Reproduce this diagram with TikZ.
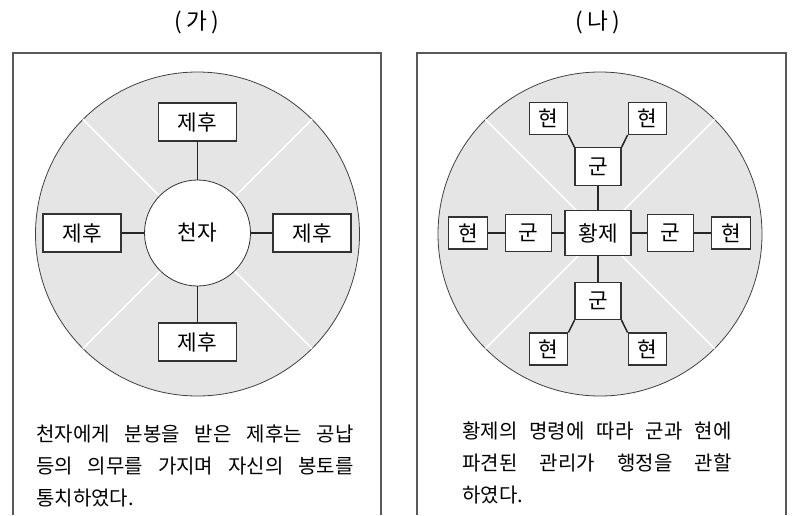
\documentclass[tikz,border=0pt]{standalone}
\usepackage{fontspec}
\newfontfamily\kr{Noto Sans CJK KR}
\usetikzlibrary{positioning}

\tikzset{
	unit/.style={draw=black!80,fill=white,line width=0.8pt,inner sep=0pt,font=\kr\fontsize{16pt}{18pt}\selectfont},
	wide/.style={unit,minimum width=58.5pt,minimum height=28.5pt},
	gun/.style={unit,minimum width=34.5pt,minimum height=28pt},
	hyeon/.style={unit,minimum width=29pt,minimum height=24pt},
	link/.style={draw=black!85,line width=1.1pt},
	spoke/.style={draw=white,line width=1.2pt},
	land/.style={draw=black!75,fill=black!10,line width=0.6pt},
	frame/.style={draw=black!65,line width=0.9pt},
	caption/.style={font=\kr\fontsize{15pt}{24pt}\selectfont,inner sep=0pt,anchor=north west,align=justify},
	heading/.style={font=\kr\fontsize{17pt}{18pt}\selectfont}
}

\begin{document}
\begin{tikzpicture}[x=0.75pt,y=-0.75pt]
	\useasboundingbox (0,0) rectangle (795,515);

	% (가)
	\node[heading] (ga) at (197,22) {(\hspace{3pt}가\hspace{3pt})};
	\draw[frame] (13,515) -- (13,53) -- (381,53) -- (381,515);
	\path[land] (197.5,234) circle[radius=162];
	\foreach \a in {45,135,225,315}
		\draw[spoke] (197.5,234) -- ++(\a:162);
	\node[draw=black!80,fill=white,line width=0.6pt,circle,minimum size=79.5pt,inner sep=0pt,font=\kr\fontsize{16pt}{18pt}\selectfont] (tz) at (197.5,233) {천자};
	\node[wide] (jn) at (197.5,122) {제후};
	\node[wide] (jw) at (82,233) {제후};
	\node[wide] (je) at (312,233) {제후};
	\node[wide] (js) at (197.5,342) {제후};
	\foreach \j in {jn,jw,je,js}
		\draw[link] (tz) -- (\j);
	\node[caption,text width=238pt] (tx1) at (36,425)
		{천자에게 분봉을 받은 제후는 공납\linebreak 등의 의무를 가지며 자신의 봉토를\linebreak 통치하였다.};

	% (나)
	\node[heading] (na) at (598,22) {(\hspace{3pt}나\hspace{3pt})};
	\draw[frame] (417,515) -- (417,53) -- (786,53) -- (786,515);
	\path[land] (600,234) circle[radius=162];
	\foreach \a in {45,135,225,315}
		\draw[spoke] (600,234) -- ++(\a:162);
	\node[unit,minimum width=49.5pt,minimum height=33.75pt] (hj) at (598,233) {황제};
	\node[gun] (gn) at (598,166.5) {군};
	\node[gun] (gs) at (598,301) {군};
	\node[gun] (gw) at (528.5,233) {군};
	\node[gun] (ge) at (670.5,233) {군};
	\node[hyeon] (hw) at (468,233) {현};
	\node[hyeon] (he) at (731,233) {현};
	\node[hyeon] (hnw) at (548.5,118.5) {현};
	\node[hyeon] (hne) at (647.5,118.5) {현};
	\node[hyeon] (hsw) at (548.5,349) {현};
	\node[hyeon] (hse) at (647.5,349) {현};
	\foreach \g in {gn,gs,gw,ge}
		\draw[link] (hj) -- (\g);
	\draw[link] (gw) -- (hw);
	\draw[link] (ge) -- (he);
	\draw[link] (hnw.south east) -- (gn.north west);
	\draw[link] (hne.south west) -- (gn.north east);
	\draw[link] (hsw.north east) -- (gs.south west);
	\draw[link] (hse.north west) -- (gs.south east);
	\node[caption,text width=202pt] (tx2) at (462,422)
		{황제의 명령에 따라 군과 현에\linebreak 파견된 관리가 행정을 관할\linebreak 하였다.};
\end{tikzpicture}
\end{document}
